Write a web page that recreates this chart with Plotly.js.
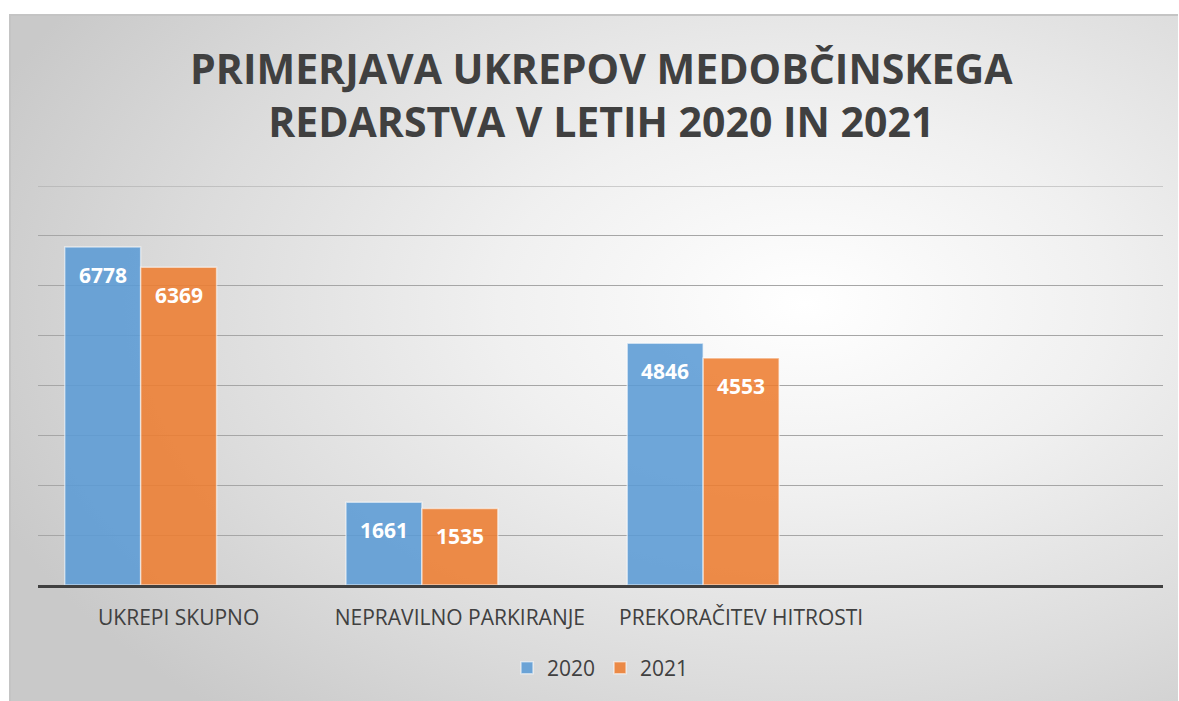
<!DOCTYPE html>
<html>
<head>
<meta charset="utf-8">
<script src="https://cdn.plot.ly/plotly-3.0.1.min.js"></script>
<style>
  html, body { margin:0; padding:0; background:#ffffff; }
  #wrap { position:relative; width:1179px; height:701px; }
  #bg { position:absolute; left:9px; top:14px; width:1169px; height:687px;
        box-sizing:border-box; border-top:2px solid #c4c4c4; border-left:2px solid #c4c4c4;
        background: radial-gradient(ellipse 75% 80% at 68% 42%, #ffffff 0%, #f0f0f0 35%, #dcdcdc 70%, #c9c9c9 100%); }
  #chart { position:absolute; left:0; top:0; width:1179px; height:701px; }
</style>
</head>
<body>
<div id="wrap"><div id="bg"></div><div id="chart"></div></div>
<script>
const categories = ["UKREPI SKUPNO", "NEPRAVILNO PARKIRANJE", "PREKORAČITEV HITROSTI"];
const seriesNames = ["2020", "2021"];
const values2020 = [6778, 1661, 4846];
const values2021 = [6369, 1535, 4553];
const yMax = 8000;

const xs = categories.map((c, i) => i);
const barWidth = 0.27;
const offsets = [-0.405, -0.135];
const fills = ["rgba(91,155,213,0.88)", "rgba(237,125,49,0.88)"];
const series = [values2020, values2021];

const traces = series.map((vals, k) => ({
  type: "bar",
  name: seriesNames[k],
  x: xs,
  y: vals,
  width: barWidth,
  offset: offsets[k],
  marker: { color: fills[k], line: { color: "rgba(255,255,255,0.55)", width: 1.5 } },
  hoverinfo: "none"
}));

const annotations = [];
series.forEach((vals, k) => {
  vals.forEach((v, i) => {
    annotations.push({
      x: xs[i] + offsets[k] + barWidth / 2, y: v, xref: "x", yref: "y",
      text: "<b>" + v + "</b>", showarrow: false, yanchor: "middle", yshift: -28,
      font: { family: "Open Sans, sans-serif", size: 21, color: "#ffffff" }
    });
  });
});

const layout = {
  width: 1179, height: 701,
  paper_bgcolor: "rgba(0,0,0,0)", plot_bgcolor: "rgba(0,0,0,0)",
  margin: { l: 38, r: 16, t: 186, b: 116 },
  barmode: "overlay",
  title: {
    text: "<b>PRIMERJAVA UKREPOV MEDOBČINSKEGA<br>REDARSTVA V LETIH 2020 IN 2021</b>",
    font: { family: "Open Sans, sans-serif", size: 41, color: "#404040" },
    x: 0.51, xanchor: "center", y: 1 - 83.5 / 701, yanchor: "middle"
  },
  xaxis: {
    range: [-0.5, 3.5], tickmode: "array", tickvals: xs, ticktext: categories,
    showgrid: false, zeroline: false, showline: true, linecolor: "#404040", linewidth: 3,
    ticks: "", ticklabelstandoff: 12,
    tickfont: { family: "Open Sans, sans-serif", size: 21, color: "#404040" }
  },
  yaxis: {
    range: [0, yMax], tickmode: "linear", tick0: 0, dtick: 1000, showticklabels: false, ticks: "",
    showgrid: true, gridcolor: "#a6a6a6", gridwidth: 1, zeroline: false, showline: false
  },
  shapes: [{
    type: "line", xref: "paper", yref: "y", x0: 0, x1: 1, y0: yMax, y1: yMax,
    line: { color: "#a6a6a6", width: 1 }, layer: "below"
  }],
  showlegend: true,
  legend: {
    orientation: "h", x: 0.5, xanchor: "center", y: -0.208, yanchor: "middle",
    font: { family: "Open Sans, sans-serif", size: 21, color: "#404040" },
    bgcolor: "rgba(0,0,0,0)", itemwidth: 30
  },
  annotations: annotations
};

Plotly.newPlot("chart", traces, layout, { displayModeBar: false, staticPlot: true });
</script>
</body>
</html>
